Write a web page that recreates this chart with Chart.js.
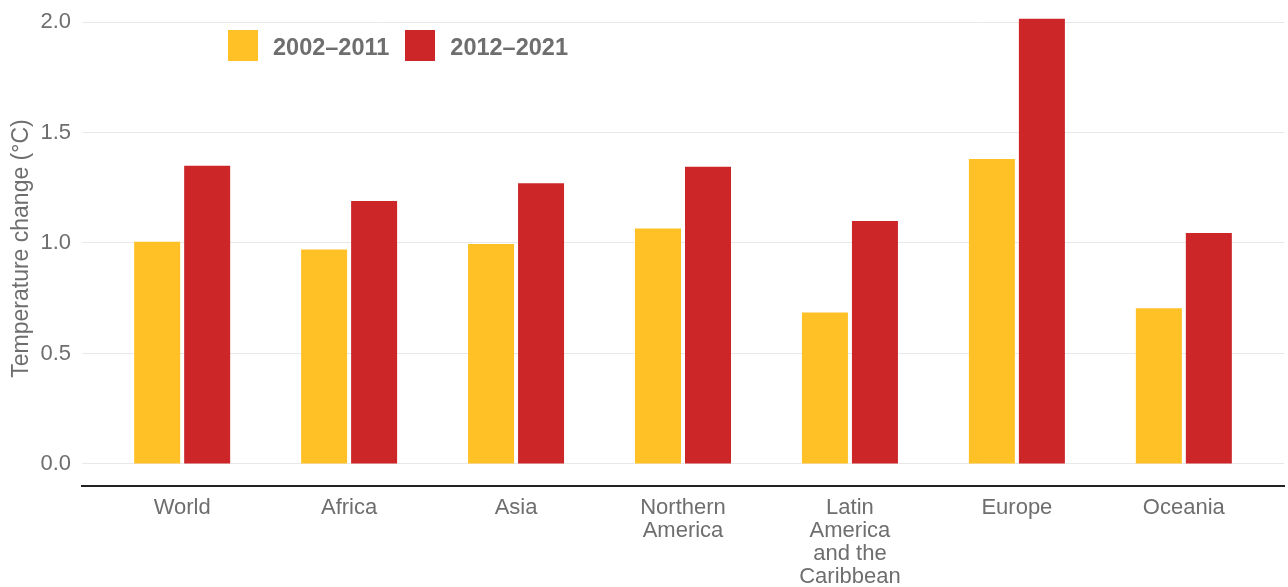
<!DOCTYPE html>
<html>
<head>
<meta charset="utf-8">
<script src="https://cdn.jsdelivr.net/npm/chart.js@4/dist/chart.umd.min.js"></script>
<style>
  html, body { margin: 0; padding: 0; background: #fff; }
  #wrap { position: relative; width: 1288px; height: 587px; }
  #legend { position: absolute; left: 228px; top: 30px; display: flex; align-items: center;
            font-family: "Liberation Sans", Arial, sans-serif; font-weight: bold; font-size: 23.5px; color: #6e6e6e; }
  #legend .item { display: flex; align-items: center; margin-right: 16px; }
  #legend .box { width: 30px; height: 31px; margin-right: 15px; }
  #legend span { position: relative; top: 2px; }
</style>
</head>
<body>
<div id="wrap">
  <canvas id="myChart" width="1288" height="587"></canvas>
  <div id="legend"></div>
</div>
<script>
// categories (multi-line labels as arrays)
var categories = ['World', 'Africa', 'Asia', ['Northern', 'America'], ['Latin', 'America', 'and the', 'Caribbean'], 'Europe', 'Oceania'];
var period1 = [1.005, 0.97, 0.995, 1.065, 0.685, 1.38, 0.705];
var period2 = [1.35, 1.19, 1.27, 1.345, 1.10, 2.015, 1.045];
var seriesNames = ['2002–2011', '2012–2021'];
var seriesColors = ['rgb(255,193,37)', 'rgb(204,38,40)'];
var yTicks = [0, 0.5, 1.0, 1.5, 2.0];

var textGray = '#6e6e6e';
var font = 'Liberation Sans, Arial, sans-serif';

function points(vals) {
    return vals.map(function (v, i) { return { x: i, y: v }; });
}

var ctx = document.getElementById('myChart').getContext('2d');
var chart = new Chart(ctx, {
    type: 'bar',
    data: {
        datasets: [{
            label: seriesNames[0],
            backgroundColor: seriesColors[0],
            data: points(period1)
        },
        {
            label: seriesNames[1],
            backgroundColor: seriesColors[1],
            data: points(period2)
        }]
    },
    options: {
        responsive: false,
        animation: false,
        categoryPercentage: 0.599,
        barPercentage: 0.92,
        layout: { padding: { left: 8, right: 4, top: 11, bottom: 0 } },
        plugins: {
            legend: { display: false },
            tooltip: { enabled: false }
        },
        scales: {
            x: {
                type: 'linear',
                offset: false,
                min: -0.6,
                max: 6.6,
                afterBuildTicks: function (scale) {
                    scale.ticks = categories.map(function (c, i) { return { value: i }; });
                },
                afterFit: function (scale) { scale.height = 101; },
                ticks: {
                    autoSkip: false,
                    maxRotation: 0,
                    padding: 10,
                    color: textGray,
                    font: { family: font, size: 22, lineHeight: 1.05 },
                    callback: function (v) { return categories[v]; }
                },
                grid: { display: false, drawTicks: false },
                border: { display: true, color: '#222', width: 2 }
            },
            y: {
                min: -0.1,
                max: 2.05,
                afterBuildTicks: function (scale) {
                    scale.ticks = yTicks.map(function (v) { return { value: v }; });
                },
                afterFit: function (scale) {
                    scale.width = 74;
                    scale.paddingTop = 0;
                    scale.paddingBottom = 0;
                },
                ticks: {
                    padding: 11,
                    color: textGray,
                    font: { family: font, size: 22 },
                    callback: function (v) { return v.toFixed(1); }
                },
                grid: { color: '#e8e8e8', lineWidth: 1, drawTicks: false },
                border: { display: false },
                title: {
                    display: true,
                    text: 'Temperature change (°C)',
                    color: textGray,
                    font: { family: font, size: 23 },
                    padding: 0
                }
            }
        }
    }
});

// legend as html text
var leg = document.getElementById('legend');
seriesNames.forEach(function (name, i) {
    var item = document.createElement('div');
    item.className = 'item';
    item.innerHTML = '<div class="box" style="background:' + seriesColors[i] + '"></div><span>' + name + '</span>';
    leg.appendChild(item);
});
</script>
</body>
</html>
